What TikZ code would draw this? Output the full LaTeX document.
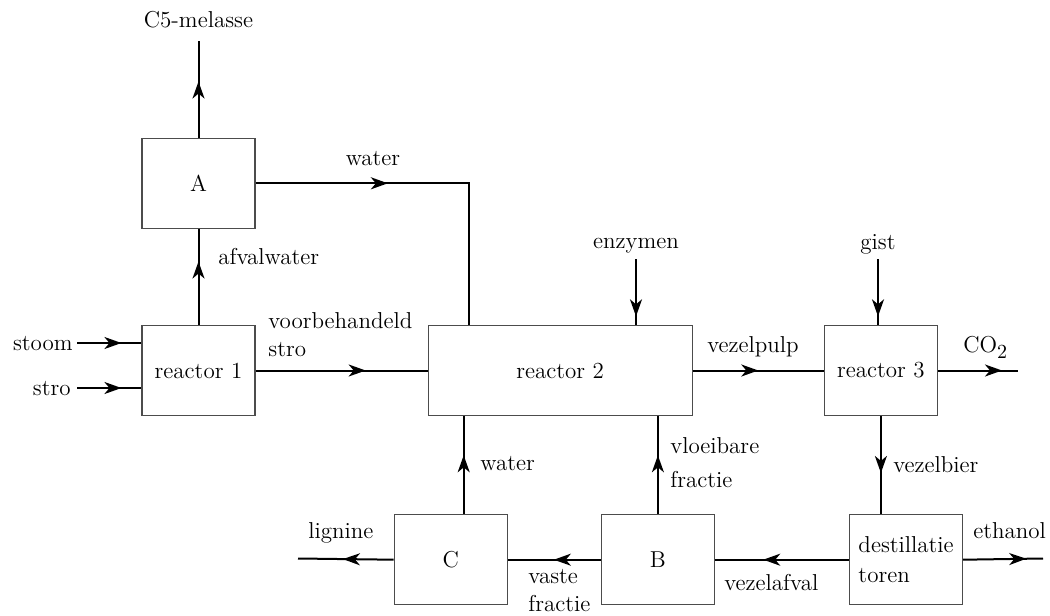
\documentclass[tikz,border=0pt]{standalone}
\usetikzlibrary{positioning,arrows.meta,decorations.markings}
\newcommand{\diagfont}{\fontsize{11.5}{14}\selectfont}

\begin{document}
\begin{tikzpicture}[
x=0.5pt, y=-0.5pt,
procesnode/.style={rectangle, draw=black!70, line width=0.6pt, minimum width=56.5pt, minimum height=45pt, inner sep=2pt, font=\diagfont},
widenode/.style={procesnode, minimum width=132pt},
lbl/.style={inner sep=0pt, font=\diagfont, align=left},
stroom/.style={line width=1pt},
flow/.style={stroom, postaction={decorate, decoration={markings, mark=at position #1 with {\arrow{Stealth[length=8.5pt,width=6pt,inset=2.5pt]}}}}},
]
\useasboundingbox (0,0) rectangle (1050,616);

%Nodes
\node[procesnode]             (r1)   at (198.5,370.5)                       {reactor 1};
\node[procesnode]             (A)    [above=48pt of r1]                      {A};
\node[widenode]               (r2)   [right=86pt of r1]                      {reactor 2};
\node[procesnode]             (r3)   [right=65.5pt of r2]                    {reactor 3};
\node[procesnode]             (C)    [below right=49pt and -17pt of r2.south west] {C};
\node[procesnode]             (B)    [right=46.5pt of C]                     {B};
\node[procesnode, align=left] (dest) [right=67pt of B]                       {destillatie\\[1pt]toren};

%Labels
\node[lbl, anchor=base east] (lstoom)   at (73,350)    {stoom};
\node[lbl, anchor=base east] (lstro)    at (71,395)    {stro};
\node[lbl, anchor=base, inner ysep=6.5pt] (lmelasse) at (198.5,27) {C5-melasse};
\node[lbl, anchor=base]      (lwaterA)  at (373,165)   {water};
\node[lbl, anchor=base west] (lafval)   at (218,264)   {afvalwater};
\node[lbl, anchor=north west] (lvoor)   at (268,312.5) {voorbehandeld\\stro};
\node[lbl, anchor=base]      (lenzym)   at (636,248)   {enzymen};
\node[lbl, anchor=base]      (lgist)    at (878,249)   {gist};
\node[lbl, anchor=base west] (lpulp)    at (707,352)   {vezelpulp};
\node[lbl, anchor=base west] (lco)      at (963,352)   {CO\raisebox{-3pt}{\fontsize{10}{12}\selectfont 2}};
\node[lbl, anchor=base west] (lbier)    at (893,472)   {vezelbier};
\node[lbl, anchor=base west] (lethanol) at (973,538)   {ethanol};
\node[lbl, anchor=base west] (lvezafv)  at (724,590)   {vezelafval};
\node[lbl, anchor=north west] (lvloei)  at (670,437.5) {vloeibare\\[3pt]fractie};
\node[lbl, anchor=base west] (lwaterC)  at (480,470)   {water};
\node[lbl, anchor=north west] (lvaste)  at (528,569)   {vaste\\fractie};
\node[lbl, anchor=base west] (llignine) at (308,538)   {lignine};

%Coordinates
\coordinate (stoomin) at (77,343);
\coordinate (stroin)  at (77,388);
\coordinate (enzin)   at (636,259);
\coordinate (gistin)  at (878,259);
\coordinate (co2out)  at (1018,370.5);
\coordinate (ethout)  at (1043,558.5);
\coordinate (ligout)  at (298,558.5);
\coordinate (wx)      at ([xshift=20.5pt]r2.north west);
\coordinate (cx)      at ([xshift=6.5pt]C.north);

%Lines
\draw[flow=0.69] (stoomin) -- (stoomin -| r1.west);
\draw[flow=0.69] (stroin) -- (stroin -| r1.west);
\draw[flow=0.64] (r1) -- (r2);
\draw[flow=0.66] (r1) -- (A);
\draw[flow=0.58] (A.north) -- (lmelasse.south);
\draw[flow=0.373] (A.east) -- (wx |- A.east) -- (wx |- r2.north);
\draw[flow=0.87] (enzin) -- (enzin |- r2.north);
\draw[flow=0.87] (gistin) -- (gistin |- r3.north);
\draw[flow=0.5] (r2) -- (r3);
\draw[flow=0.8] (r3.east) -- (co2out);
\draw[flow=0.58] (r3.south) -- (r3.south |- dest.north);
\draw[flow=0.64] (dest) -- (B);
\draw[flow=0.79] (dest.east) -- (ethout);
\draw[flow=0.505] (B) -- (C);
\draw[flow=0.53] (C.west) -- (ligout);
\draw[flow=0.6] (cx) -- (cx |- r2.south);
\draw[flow=0.6] (B.north) -- (B.north |- r2.south);

\end{tikzpicture}
\end{document}
